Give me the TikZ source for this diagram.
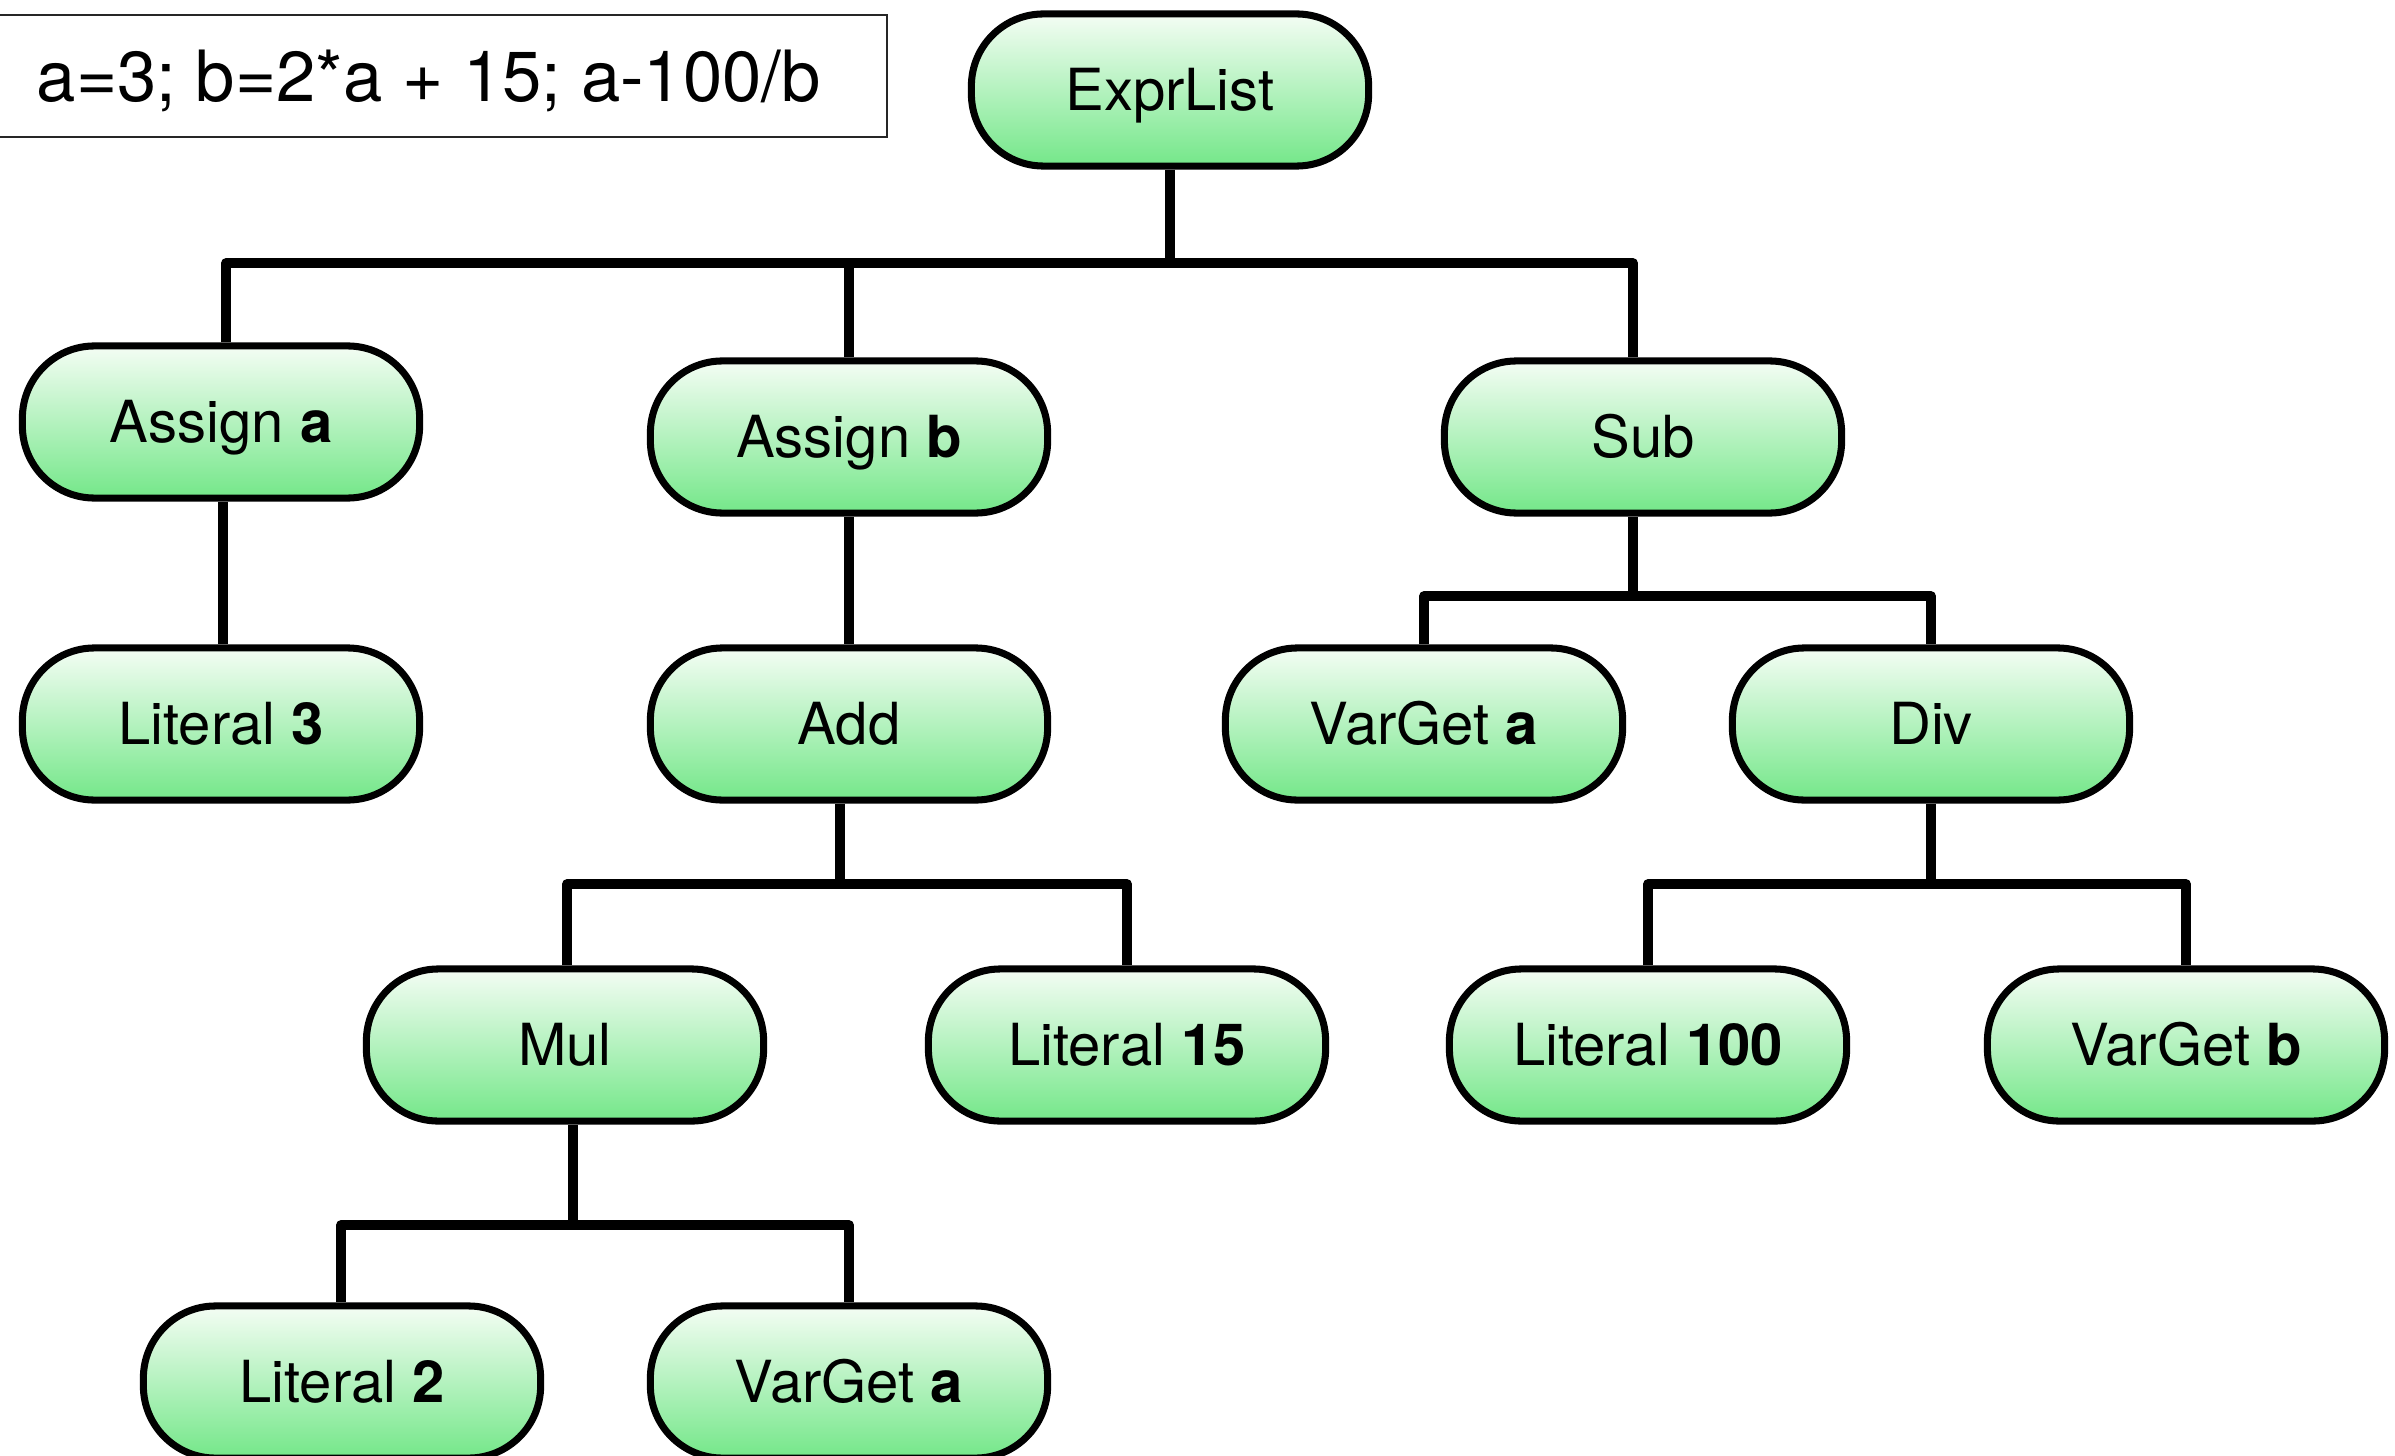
\documentclass[tikz,border=0pt]{standalone}
\usepackage{fontspec}
\setmainfont{TeX Gyre Heros}
\definecolor{nodetop}{RGB}{244,253,244}
\definecolor{nodebot}{RGB}{116,231,137}
\tikzset{
  astnode/.style={draw=black, line width=2pt, rounded corners=0.72cm,
    minimum width=3.97cm, minimum height=1.52cm, inner sep=0pt,
    top color=nodetop, bottom color=nodebot,
    text height=0.41cm, text depth=0cm,
    font=\fontsize{16.5pt}{20pt}\selectfont},
  conn/.style={line width=2.7pt, line join=round},
}
\begin{document}
\begin{tikzpicture}[x=0.01cm, y=-0.01cm]
\useasboundingbox (0,0) rectangle (2395,1455);

% source program box
\draw[line width=0.6pt, draw=black!85] (-20,15) rectangle (887,137);
\node[anchor=west, inner sep=0pt, text height=0.51cm, text depth=0cm,
      font=\fontsize{20.1pt}{24pt}\selectfont] (source) at (36,76)
      {a=3; b=2*a + 15; a-100/b};

% levels of the horizontal bars
\coordinate (barE) at (0,263);
\coordinate (barS) at (0,596);
\coordinate (barA) at (0,884);
\coordinate (barD) at (0,884);
\coordinate (barM) at (0,1225);

% node positions
\path (1170,90) coordinate (pE) (221,422) coordinate (pAa) (849,437) coordinate (pAb)
      (1643,437) coordinate (pS) (221,724) coordinate (pL3) (849,724) coordinate (pAdd)
      (1424,724) coordinate (pVa) (1931,724) coordinate (pDiv) (565,1045) coordinate (pMul)
      (1127,1045) coordinate (pL15) (1648,1045) coordinate (pL100) (2186,1045) coordinate (pVb)
      (342,1382) coordinate (pL2) (849,1382) coordinate (pVa2);

% tree nodes
\node[astnode] (exprlist) at (pE) {ExprList};
\node[astnode] (assignA) at (pAa) {Assign \textbf{a}};
\node[astnode] (assignB) at (pAb) {Assign \textbf{b}};
\node[astnode] (sub) at (pS) {Sub};
\node[astnode] (lit3) at (pL3) {Literal \textbf{3}};
\node[astnode] (add) at (pAdd) {Add};
\node[astnode] (vargetA) at (pVa) {VarGet \textbf{a}};
\node[astnode] (div) at (pDiv) {Div};
\node[astnode] (mul) at (pMul) {Mul};
\node[astnode] (lit15) at (pL15) {Literal \textbf{15}};
\node[astnode] (lit100) at (pL100) {Literal \textbf{100}};
\node[astnode] (vargetB) at (pVb) {VarGet \textbf{b}};
\node[astnode] (lit2) at (pL2) {Literal \textbf{2}};
\node[astnode] (vargetA2) at (pVa2) {VarGet \textbf{a}};

% ExprList children
\draw[conn] (exprlist.south) -- (exprlist.south |- barE);
\draw[conn] ([xshift=0.05cm]assignA.north) -- ([xshift=0.05cm]assignA.north |- barE)
  -- ([xshift=-0.1cm]sub.north |- barE) -- ([xshift=-0.1cm]sub.north);
\draw[conn] (assignB.north) -- (assignB.north |- barE);

% Assign a / Assign b
\draw[conn] ([xshift=0.02cm]assignA.south) -- ([xshift=0.02cm]lit3.north);
\draw[conn] (assignB.south) -- (add.north);

% Sub children
\draw[conn] ([xshift=-0.1cm]sub.south) -- ([xshift=-0.1cm]sub.south |- barS);
\draw[conn] (vargetA.north) -- (vargetA.north |- barS) -- (div.north |- barS) -- (div.north);

% Add children
\draw[conn] ([xshift=-0.09cm]add.south) -- ([xshift=-0.09cm]add.south |- barA);
\draw[conn] ([xshift=0.02cm]mul.north) -- ([xshift=0.02cm]mul.north |- barA)
  -- (lit15.north |- barA) -- (lit15.north);

% Div children
\draw[conn] (div.south) -- (div.south |- barD);
\draw[conn] (lit100.north) -- (lit100.north |- barD) -- (vargetB.north |- barD) -- (vargetB.north);

% Mul children
\draw[conn] ([xshift=0.08cm]mul.south) -- ([xshift=0.08cm]mul.south |- barM);
\draw[conn] ([xshift=-0.01cm]lit2.north) -- ([xshift=-0.01cm]lit2.north |- barM)
  -- (vargetA2.north |- barM) -- (vargetA2.north);
\end{tikzpicture}
\end{document}
